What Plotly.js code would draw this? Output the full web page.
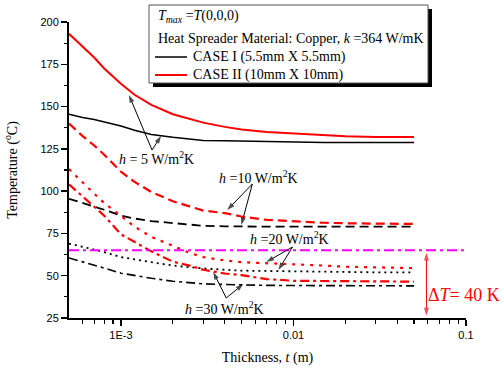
<!DOCTYPE html>
<html>
<head>
<meta charset="utf-8">
<script src="https://cdn.plot.ly/plotly-3.0.1.min.js"></script>
<style>html,body{margin:0;padding:0;background:#fff;}#chart{width:503px;height:368px;}</style>
</head>
<body>
<div id="chart"></div>
<script>
// Thickness t (m)
const thickness = [0.0005,0.0006,0.0007,0.0008,0.001,0.0012,0.0015,0.002,0.0025,0.003,0.004,0.005,0.007,0.01,0.015,0.02,0.03,0.05];
// Temperature (°C)
const caseII_h5  = [193,185.5,179,172.5,163.5,157,151,145.5,142.5,140.5,138,136.5,135,134,133,132.5,132,132];
const caseI_h5   = [145.5,143.5,142.3,141,138.5,136,133.5,131.8,130.8,130,129.8,129.6,129,128.8,128.7,128.7,128.7,128.7];
const caseII_h10 = [140,132.5,127,121.5,111.5,105.5,99.5,94,91,88.5,87,85,83,82,81.3,81,80.8,80.6];
const caseI_h10  = [95.5,93,91,89,85.5,83.8,82.3,81.2,80.5,79.5,79.2,79,79,79,79,79,79,79];
const caseII_h20 = [113,105,98.5,93,85,79,73,67.5,63.5,61,59,58,57.5,57,56,55.3,54.8,54.5];
const caseI_h20  = [69,67,65.5,64,61,59.5,58,56,55,54.3,53.5,53,52.8,52.5,52.3,52.2,52,52];
const caseII_h30 = [104,97,91,85.5,74.5,69.8,64.4,58.3,56,53.5,51.3,50.3,48,47,46.8,46.7,46.6,46.5];
const caseI_h30  = [60.5,58,56,54.5,51.5,50,48.5,46.7,45.8,45.2,44.8,44.5,44.3,44.2,44.1,44,44,44];
// Limit line and temperature margin
const limitX = [0.0005, 0.1];
const limitT = [65, 65];
const deltaT = [25, 65];
const deltaX = 0.059;
// Axis ticks
const xTickVals = [0.001, 0.01, 0.1];
const xTickText = ['1E-3', '0.01', '0.1'];
const xMinorVals = [0.0006,0.0007,0.0008,0.0009,0.002,0.003,0.004,0.005,0.006,0.007,0.008,0.009,0.02,0.03,0.04,0.05,0.06,0.07,0.08,0.09];

const RED = '#ff0000', BLK = '#000000';
const serif = '"Liberation Serif", "Times New Roman", serif';
const sans = '"Liberation Sans", Arial, sans-serif';

function tr(y, color, dash, width) {
  return {x: thickness, y: y, type: 'scatter', mode: 'lines', showlegend: false,
    line: {color: color, dash: dash, width: width}, hoverinfo: 'skip'};
}
const data = [
  tr(caseI_h5, BLK, 'solid', 1.5),
  tr(caseII_h5, RED, 'solid', 2),
  tr(caseI_h10, BLK, '9px,5px', 1.8),
  tr(caseII_h10, RED, '9px,5px', 2.2),
  tr(caseI_h20, BLK, '2px,4px', 1.8),
  tr(caseII_h20, RED, '3px,6px', 2.2),
  tr(caseI_h30, BLK, '9px,4px,3px,4px', 1.6),
  tr(caseII_h30, RED, '9px,4px,3px,4px', 2.2),
  {x: limitX, y: limitT, type: 'scatter', mode: 'lines', showlegend: false,
   line: {color: '#ff00ff', dash: '10px,4px,3px,4px', width: 2}, hoverinfo: 'skip'}
];

const L = Math.log10;
function px2x(px){ return (px - 69) / 397; }
function py2y(py){ return (318 - py) / 296; }
function pxX(px){ return Math.pow(10, -3 + (px - 122) / 172); }
function pyT(py){ return 200 - (py - 22) * 175 / 296; }

function arrowTrace(fx, fy, tx, ty, color) {
  return {x: [fx, tx], y: [fy, ty], type: 'scatter', mode: 'lines+markers', showlegend: false, hoverinfo: 'skip',
    line: {color: color, width: 1},
    marker: {symbol: ['circle', 'arrow'], size: [0, 8], angleref: 'previous', color: color, line: {width: 0}}};
}
// pointer arrows for the h labels
data.push(arrowTrace(pxX(153), pyT(150), pxX(130), pyT(95), BLK));
data.push(arrowTrace(pxX(153), pyT(150), pxX(162), pyT(136), BLK));
data.push(arrowTrace(pxX(253), pyT(184), pxX(228), pyT(210), BLK));
data.push(arrowTrace(pxX(253), pyT(184), pxX(242), pyT(225), BLK));
data.push(arrowTrace(pxX(293), pyT(247), pxX(267), pyT(262), BLK));
data.push(arrowTrace(pxX(293), pyT(247), pxX(279), pyT(270), BLK));
data.push(arrowTrace(pxX(227), pyT(298), pxX(214), pyT(272), BLK));
data.push(arrowTrace(pxX(227), pyT(298), pxX(244), pyT(284), BLK));
// delta T double arrow
const midT = (deltaT[0] + deltaT[1]) / 2;
data.push(arrowTrace(deltaX, midT, deltaX, deltaT[1] - 1.5, RED));
data.push(arrowTrace(deltaX, midT, deltaX, deltaT[0] + 1.5, RED));

function label(txt, lx, ly) {
  return {x: L(lx), y: ly, xref: 'x', yref: 'y', text: txt, showarrow: false,
    font: {family: serif, size: 14, color: '#000'}, xanchor: 'center', yanchor: 'middle'};
}

const annotations = [
  label('<i>h</i> = 5 W/m<sup>2</sup>K', pxX(157), pyT(158)),
  label('<i>h</i> =10 W/m<sup>2</sup>K', pxX(259), pyT(177)),
  label('<i>h</i> =20 W/m<sup>2</sup>K', pxX(290), pyT(238)),
  label('<i>h</i> =30 W/m<sup>2</sup>K', pxX(225), pyT(308)),
  {x: px2x(502), y: py2y(295), xref: 'paper', yref: 'paper', text: '\u0394<i>T</i>= 40 K', showarrow: false,
   xanchor: 'right', yanchor: 'middle', font: {family: serif, size: 18, color: RED}},
  // Legend texts
  {x: px2x(156), y: py2y(16), xref: 'paper', yref: 'paper', xanchor: 'left', yanchor: 'middle', showarrow: false,
   text: '<i>T</i><sub><i>max</i></sub> =<i>T</i>(0,0,0)', font: {family: serif, size: 14, color: '#000'}},
  {x: px2x(156), y: py2y(38), xref: 'paper', yref: 'paper', xanchor: 'left', yanchor: 'middle', showarrow: false,
   text: 'Heat Spreader Material: Copper, <i>k</i> =364 W/mK', font: {family: serif, size: 14, color: '#000'}},
  {x: px2x(191), y: py2y(57), xref: 'paper', yref: 'paper', xanchor: 'left', yanchor: 'middle', showarrow: false,
   text: 'CASE I (5.5mm X 5.5mm)', font: {family: serif, size: 14, color: '#000'}},
  {x: px2x(191), y: py2y(75), xref: 'paper', yref: 'paper', xanchor: 'left', yanchor: 'middle', showarrow: false,
   text: 'CASE II (10mm X 10mm)', font: {family: serif, size: 14, color: '#000'}}
];

const shapes = [
  {type: 'rect', xref: 'paper', yref: 'paper', x0: px2x(153), x1: px2x(432), y0: py2y(87), y1: py2y(9),
   fillcolor: '#000', line: {width: 0}},
  {type: 'rect', xref: 'paper', yref: 'paper', x0: px2x(149), x1: px2x(428), y0: py2y(83), y1: py2y(5),
   fillcolor: '#fff', line: {color: '#555', width: 1}},
  {type: 'line', xref: 'paper', yref: 'paper', x0: px2x(155), x1: px2x(187), y0: py2y(57), y1: py2y(57),
   line: {color: BLK, width: 1.5}},
  {type: 'line', xref: 'paper', yref: 'paper', x0: px2x(155), x1: px2x(187), y0: py2y(75), y1: py2y(75),
   line: {color: RED, width: 2}}
];

const layout = {
  width: 503, height: 368,
  margin: {l: 69, r: 37, t: 22, b: 50},
  paper_bgcolor: '#fff', plot_bgcolor: '#fff',
  showlegend: false,
  xaxis: {
    type: 'log', range: [L(0.0005), -1], showgrid: false, zeroline: false,
    showline: true, linecolor: '#000', linewidth: 2,
    tickmode: 'array', tickvals: xTickVals, ticktext: xTickText,
    ticks: 'outside', ticklen: 6, tickwidth: 1.5, tickcolor: '#000',
    tickfont: {family: sans, size: 11, color: '#000'},
    minor: {tickmode: 'array', tickvals: xMinorVals, ticks: 'outside', ticklen: 3.5, tickwidth: 1.2, tickcolor: '#000', showgrid: false},
    title: {text: 'Thickness, <i>t</i> (m)', font: {family: serif, size: 14, color: '#000'}, standoff: 12},
    automargin: false
  },
  yaxis: {
    range: [25, 200], showgrid: false, zeroline: false,
    showline: true, linecolor: '#000', linewidth: 2,
    tickmode: 'linear', tick0: 25, dtick: 25,
    ticks: 'outside', ticklen: 6, tickwidth: 1.5, tickcolor: '#000',
    tickfont: {family: sans, size: 11, color: '#000'},
    minor: {dtick: 12.5, tick0: 25, ticks: 'outside', ticklen: 3.5, tickwidth: 1.2, tickcolor: '#000', showgrid: false},
    title: {text: 'Temperature (<sup>o</sup>C)', font: {family: serif, size: 14, color: '#000'}, standoff: 20},
    automargin: false
  },
  annotations: annotations,
  shapes: shapes
};

Plotly.newPlot('chart', data, layout, {staticPlot: true, displayModeBar: false});
</script>
</body>
</html>
